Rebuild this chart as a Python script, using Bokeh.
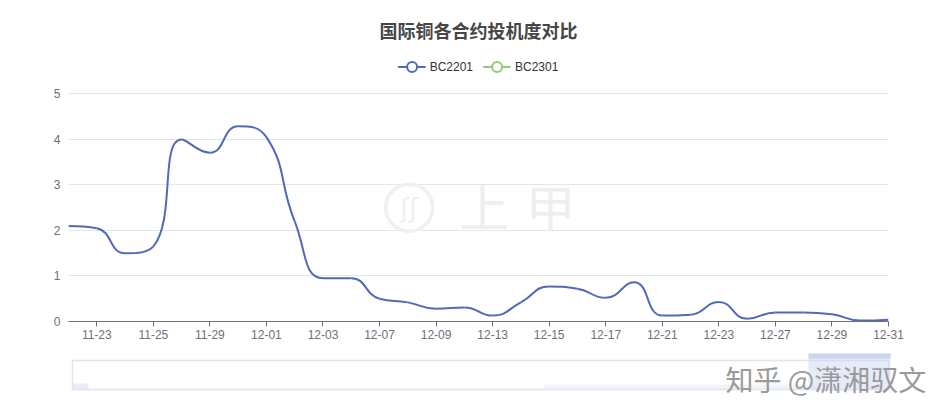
from bokeh.plotting import figure
from bokeh.models import (ColumnDataSource, Range1d, FixedTicker, Legend, LegendItem, Label)
from bokeh.embed import file_html
from bokeh.resources import INLINE

# ---------------- data ----------------
title_text = "国际铜各合约投机度对比"
series_names = ["BC2201", "BC2301"]
dates = ["11-22", "11-23", "11-24", "11-25", "11-26", "11-29", "11-30", "12-01", "12-02", "12-03",
         "12-06", "12-07", "12-08", "12-09", "12-10", "12-13", "12-14", "12-15", "12-16", "12-17",
         "12-20", "12-21", "12-22", "12-23", "12-24", "12-27", "12-28", "12-29", "12-30", "12-31"]
bc2201 = [2.10, 2.05, 1.50, 1.65, 4.00, 3.71, 4.29, 4.05, 2.20, 0.95,
          0.95, 0.50, 0.42, 0.28, 0.31, 0.13, 0.42, 0.77, 0.72, 0.52,
          0.86, 0.13, 0.15, 0.43, 0.06, 0.20, 0.20, 0.16, 0.02, 0.04]
nan = float("nan")
# BC2301: no values shown in this window
bc2301 = [nan, nan, nan, nan, nan, nan, nan, nan, nan, nan,
          nan, nan, nan, nan, nan, nan, nan, nan, nan, nan,
          nan, nan, nan, nan, nan, nan, nan, nan, nan, nan]
y_ticks = [0, 1, 2, 3, 4, 5]
watermark = "知乎 @潇湘驭文"
logo_chars = ["上", "甲"]

C1 = "#5069b9"
C2 = "#91cc75"
AXIS_C = "#6e7079"
FONT = "Liberation Sans"
CJK = "Noto Sans CJK SC"


def echarts_smooth(xs, ys, smooth=0.5, sx=28.2, sy=45.5):
    """Bezier segments following ECharts' smooth-line construction (pixel-scaled)."""
    px = [x * sx for x in xs]
    py = [y * sy for y in ys]
    n = len(px)
    out = dict(x0=[], y0=[], x1=[], y1=[], cx0=[], cy0=[], cx1=[], cy1=[])
    cpx0, cpy0 = px[0], py[0]
    prevX, prevY = px[0], py[0]
    for i in range(1, n):
        x, y = px[i], py[i]
        nextCpx0, nextCpy0 = x, y
        if i == n - 1:
            cpx1, cpy1 = x, y
        else:
            nextX, nextY = px[i + 1], py[i + 1]
            vx, vy = nextX - prevX, nextY - prevY
            dx0, dy0 = x - prevX, y - prevY
            dx1, dy1 = nextX - x, nextY - y
            lp = (dx0 * dx0 + dy0 * dy0) ** 0.5
            ln = (dx1 * dx1 + dy1 * dy1) ** 0.5
            r = ln / (ln + lp)
            nextCpx0 = x + vx * smooth * r
            nextCpy0 = y + vy * smooth * r
            nextCpx0 = max(min(nextCpx0, max(nextX, x)), min(nextX, x))
            nextCpy0 = max(min(nextCpy0, max(nextY, y)), min(nextY, y))
            vx, vy = nextCpx0 - x, nextCpy0 - y
            cpx1 = x - vx * lp / ln
            cpy1 = y - vy * lp / ln
            cpx1 = max(min(cpx1, max(prevX, x)), min(prevX, x))
            cpy1 = max(min(cpy1, max(prevY, y)), min(prevY, y))
            vx, vy = x - cpx1, y - cpy1
            nextCpx0 = x + vx * ln / lp
            nextCpy0 = y + vy * ln / lp
        out["x0"].append(prevX / sx); out["y0"].append(prevY / sy)
        out["x1"].append(x / sx); out["y1"].append(y / sy)
        out["cx0"].append(cpx0 / sx); out["cy0"].append(cpy0 / sy)
        out["cx1"].append(cpx1 / sx); out["cy1"].append(cpy1 / sy)
        cpx0, cpy0 = nextCpx0, nextCpy0
        prevX, prevY = x, y
    return out


xs = list(range(len(dates)))

# ---------------- main chart ----------------
p = figure(width=935, height=351, output_backend="svg", toolbar_location=None,
           x_range=Range1d(0, len(dates) - 1), y_range=Range1d(0, 6.02),
           min_border_left=68, min_border_right=47, min_border_top=47, min_border_bottom=30)
p.outline_line_color = None
p.background_fill_color = "white"
p.border_fill_color = "white"

p.title.text = title_text
p.title.align = "center"
p.title.text_font = CJK
p.title.text_font_size = "18px"
p.title.text_font_style = "bold"
p.title.text_color = "#464646"
p.title.standoff = 9

# faint watermark logo
p.scatter(x=[12.05], y=[2.5], size=47, marker="circle", fill_color=None,
          line_color="#f0f0f0", line_width=3.5)
p.add_layout(Label(x=12.05, y=2.5, text="ʃʃ", text_font="DejaVu Sans", text_font_size="26px",
                   text_color="#f0f0f0", text_align="center", text_baseline="middle"))
for tx, ch in zip((14.7, 17.05), logo_chars):
    p.add_layout(Label(x=tx, y=2.55, text=ch, text_font=CJK, text_font_size="50px",
                       text_color="#eeeeee", text_align="center", text_baseline="middle"))

seg = ColumnDataSource(echarts_smooth(xs, bc2201))
r_curve = p.bezier(x0="x0", y0="y0", x1="x1", y1="y1", cx0="cx0", cy0="cy0", cx1="cx1",
                   cy1="cy1", source=seg, line_color=C1, line_width=2)
# symbols hidden on the chart (size 0) but shown in the legend
r_dot1 = p.scatter(x=xs, y=bc2201, marker="circle", size=0, fill_color="white",
                   line_color=C1, line_width=2)

r_line2 = p.line(x=xs, y=bc2301, line_color=C2, line_width=2)
r_dot2 = p.scatter(x=xs, y=bc2301, marker="circle", size=10, fill_color="white",
                   line_color=C2, line_width=2)

legend = Legend(items=[LegendItem(label=series_names[0], renderers=[r_curve, r_dot1]),
                       LegendItem(label=series_names[1], renderers=[r_line2, r_dot2])],
                orientation="horizontal", location="top_center",
                border_line_color=None, background_fill_alpha=0,
                label_text_font=FONT, label_text_font_size="12px", label_text_color="#333333",
                glyph_width=28, glyph_height=25, spacing=10, label_standoff=4,
                margin=7, padding=3)
p.add_layout(legend)

# axes
p.xaxis.ticker = FixedTicker(ticks=[i for i in xs if i % 2 == 1])
p.xaxis.major_label_overrides = {i: d for i, d in enumerate(dates)}
p.xaxis.axis_line_color = AXIS_C
p.xaxis.major_tick_line_color = AXIS_C
p.xaxis.major_tick_out = 5
p.xaxis.major_tick_in = 0
p.xaxis.minor_tick_line_color = None
p.xaxis.major_label_standoff = 3
p.xaxis.major_label_text_font = FONT
p.xaxis.major_label_text_font_size = "12px"
p.xaxis.major_label_text_color = AXIS_C

p.yaxis.ticker = FixedTicker(ticks=y_ticks)
p.yaxis.axis_line_color = None
p.yaxis.major_tick_line_color = None
p.yaxis.minor_tick_line_color = None
p.yaxis.major_tick_out = 0
p.yaxis.major_tick_in = 0
p.yaxis.major_label_standoff = 8
p.yaxis.major_label_text_font = FONT
p.yaxis.major_label_text_font_size = "12px"
p.yaxis.major_label_text_color = AXIS_C

p.xgrid.grid_line_color = None
p.ygrid.grid_line_color = "#e0e6f1"
p.ygrid.grid_line_width = 1

# ---------------- data-zoom slider strip (pixel-like coordinates) ----------------
s = figure(width=935, height=48, output_backend="svg", toolbar_location=None,
           x_range=Range1d(0, 935), y_range=Range1d(0, 48),
           x_axis_location=None, y_axis_location=None,
           min_border_left=0, min_border_right=0, min_border_top=0, min_border_bottom=0)
s.outline_line_color = None
s.xgrid.grid_line_color = None
s.ygrid.grid_line_color = None
s.border_fill_color = "white"
s.background_fill_color = "white"
s.quad(left=[543], right=[808], bottom=[10], top=[15], fill_color="#e9edf6",
       fill_alpha=0.6, line_color=None)
s.quad(left=[72], right=[88], bottom=[10], top=[16], fill_color="#d2dbee",
       fill_alpha=0.5, line_color=None)
s.quad(left=[72], right=[888], bottom=[10], top=[39], fill_color=None,
       line_color="#dfe4ee", line_width=1.5)
s.quad(left=[808], right=[890], bottom=[10], top=[46], fill_color="#c7d2f0",
       fill_alpha=0.45, line_color=None)
s.quad(left=[808], right=[890], bottom=[41], top=[46], fill_color="#b8c5ec",
       fill_alpha=0.6, line_color=None)
s.add_layout(Label(x=725, y=21, text=watermark, text_font=CJK, text_font_size="28px",
                   text_color="#9a9a9a", text_align="left", text_baseline="middle"))

open("out.html", "w").write(file_html([p, s], INLINE))
